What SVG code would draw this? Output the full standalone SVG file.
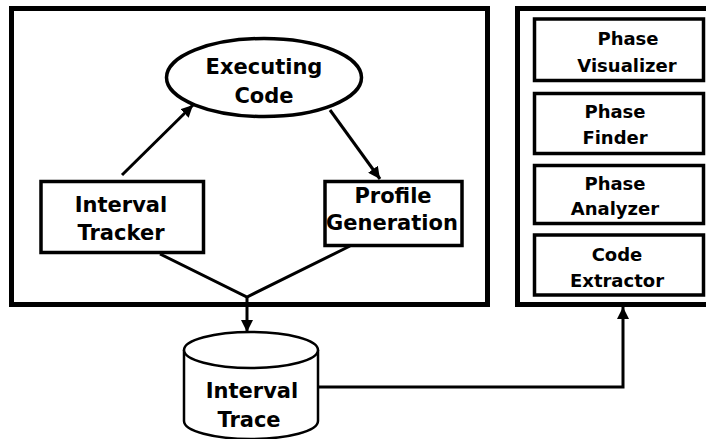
<svg xmlns="http://www.w3.org/2000/svg" width="706" height="439" viewBox="0 0 706 439">
  <defs>
    <marker id="arrow" viewBox="0 0 12 12" refX="12" refY="6" markerWidth="12" markerHeight="12" markerUnits="userSpaceOnUse" orient="auto">
      <path d="M0,0 L12,6 L0,12 Z" fill="#000"/>
    </marker>
    <style>
      .panel { fill: #fff; stroke: #000; stroke-width: 5; }
      .box { fill: #fff; stroke: #000; stroke-width: 3.5; }
      .tool { fill: #fff; stroke: #000; stroke-width: 3.5; }
      .lbl { font-family: "DejaVu Sans", Verdana, sans-serif; font-weight: bold; font-size: 21px; text-anchor: middle; fill: #000; }
      .tlbl { font-family: "DejaVu Sans", Verdana, sans-serif; font-weight: bold; font-size: 18px; text-anchor: middle; fill: #000; }
      .wire { fill: none; stroke: #000; stroke-width: 3; }
    </style>
  </defs>
  <rect width="706" height="439" fill="#fff"/>

  <!-- runtime panel -->
  <rect id="runtime-panel" class="panel" x="11.5" y="8.5" width="476" height="296"/>

  <!-- analysis tools panel (runs past the right edge) -->
  <rect id="tools-panel" class="panel" x="517.5" y="8.5" width="200" height="296"/>

  <g id="executing-code">
    <ellipse cx="264" cy="77.5" rx="97.5" ry="39" fill="#fff" stroke="#000" stroke-width="3.5"/>
    <text class="lbl" x="264" y="74" font-size="20">Executing</text>
    <text class="lbl" x="264" y="103" font-size="20">Code</text>
  </g>

  <g id="interval-tracker">
    <rect class="box" x="41" y="181.5" width="162.5" height="71"/>
    <text class="lbl" x="121" y="212">Interval</text>
    <text class="lbl" x="121" y="240">Tracker</text>
  </g>

  <g id="profile-generation">
    <rect class="box" x="325" y="181.5" width="137" height="64"/>
    <text class="lbl" x="393" y="203">Profile</text>
    <text class="lbl" x="392" y="230">Generation</text>
  </g>

  <g id="phase-visualizer">
    <rect class="tool" x="534.5" y="19" width="169" height="61.5"/>
    <text class="tlbl" x="628" y="45">Phase</text>
    <text class="tlbl" x="627" y="72">Visualizer</text>
  </g>

  <g id="phase-finder">
    <rect class="tool" x="534.5" y="93.5" width="169" height="60"/>
    <text class="tlbl" x="615" y="118">Phase</text>
    <text class="tlbl" x="615" y="144">Finder</text>
  </g>

  <g id="phase-analyzer">
    <rect class="tool" x="534.5" y="165.5" width="169" height="58"/>
    <text class="tlbl" x="615" y="190">Phase</text>
    <text class="tlbl" x="615" y="215">Analyzer</text>
  </g>

  <g id="code-extractor">
    <rect class="tool" x="534.5" y="235" width="169" height="60"/>
    <text class="tlbl" x="617" y="261">Code</text>
    <text class="tlbl" x="617" y="287">Extractor</text>
  </g>

  <g id="interval-trace">
    <path d="M184,350 L184,421 A67,18 0 0 0 318,421 L318,350" fill="#fff" stroke="#000" stroke-width="2.5"/>
    <ellipse cx="251" cy="350" rx="67" ry="18" fill="#fff" stroke="#000" stroke-width="2.5"/>
    <text class="lbl" x="252" y="398">Interval</text>
    <text class="lbl" x="249" y="427">Trace</text>
  </g>

  <g id="connectors">
    <line class="wire" x1="122" y1="175" x2="193" y2="105" marker-end="url(#arrow)"/>
    <line class="wire" x1="330" y1="110" x2="380" y2="179" marker-end="url(#arrow)"/>
    <polyline class="wire" points="160,254 247,297 350,246"/>
    <line class="wire" x1="247" y1="297" x2="247" y2="332" marker-end="url(#arrow)"/>
    <polyline class="wire" points="318,387 623,387 623,307" marker-end="url(#arrow)"/>
  </g>
</svg>
